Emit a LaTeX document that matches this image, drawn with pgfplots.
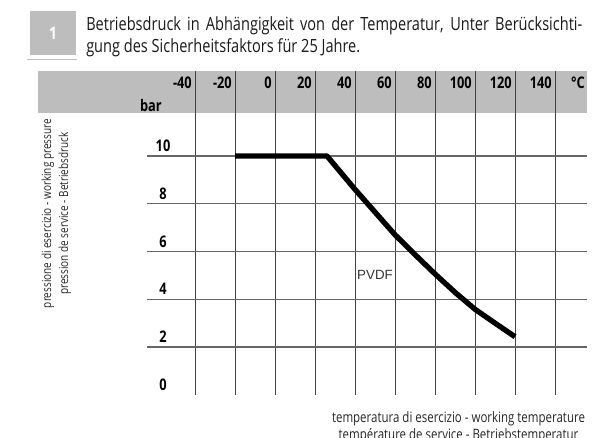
\documentclass[border=0pt]{standalone}
\usepackage{fontspec}
\setmainfont{Open Sans}[FakeStretch=0.8]
\newfontfamily\boldc{Open Sans}[FakeStretch=0.8,UprightFont=* Bold]
\newfontfamily\arialf{Liberation Sans}
\usepackage{pgfplots}
\pgfplotsset{compat=1.18}
\definecolor{band}{gray}{0.74}
\newsavebox{\titlebox}
\newsavebox{\xlabbox}
\newsavebox{\ylabbox}
\newsavebox{\degbox}
\newlength\tmpw
% #1 macro to define, #2 target width (pt), #3 text
\newcommand\fitsize[3]{%
  \settowidth\tmpw{\fontsize{10}{12}\selectfont #3}%
  \pgfmathsetmacro#1{10*#2/\tmpw}}
\begin{document}
\fitsize\fsT{205.5}{gung des Sicherheitsfaktors für 25 Jahre.}%
\fitsize\fsY{141.75}{pressione di esercizio - working pressure}%
\fitsize\fsX{189.75}{temperatura di esercizio - working temperature}%
\savebox{\titlebox}{\color{black!90}\vtop{\fontsize{\fsT}{16.5}\selectfont
  \hbox to 372pt{Betriebsdruck in Abhängigkeit von der Temperatur, Unter Berücksichti-}
  \hbox{gung des Sicherheitsfaktors für 25 Jahre.}}}%
\savebox{\xlabbox}{\color{black!85}\vtop{\fontsize{\fsX}{12.75}\selectfont
  \hbox to 189.75pt{\hss temperatura di esercizio - working temperature\hss}
  \hbox to 189.75pt{\hss température de service - Betriebstemperatur\hss}}}%
\savebox{\ylabbox}{\color{black!85}\vbox{\fontsize{\fsY}{12.75}\selectfont
  \hbox to 141.75pt{\hss pressione di esercizio - working pressure\hss}
  \hbox to 141.75pt{\hss pression de service - Betriebsdruck\hss}}}%
\savebox{\degbox}{\boldc\fontsize{12}{14}\selectfont °C}%
\begin{tikzpicture}
\begin{axis}[
  set layers,
  x=1.5pt, y=17.906pt,
  xmin=-64, xmax=156, ymin=0, ymax=13.561,
  clip=false,
  axis line style={draw=none},
  major tick length=0pt,
  xtick={-40,-20,...,140}, ytick={2,4,...,10},
  xticklabels={}, yticklabels={},
  grid=major,
  x grid style={black!75, line width=0.55pt},
  y grid style={black!60, line width=0.8pt},
]
\begin{pgfonlayer}{axis background}
\fill[band] (axis cs:-118.5,11.801) rectangle (axis cs:156,13.561);
\end{pgfonlayer}
% curve
\addplot[black, line width=4pt, line join=round] coordinates {
  (-20,10) (26,10) (40,8.6) (50,7.65) (60,6.7) (70,5.87) (80,5.06)
  (90,4.29) (100,3.58) (110,3.0) (120,2.43)
};
\node[font=\arialf\fontsize{10}{12}\selectfont, text=black!80] at (axis cs:50,5.0) {PVDF};
% x tick labels
\pgfplotsinvokeforeach{-40,-20,0,20,40,60,80,100,120,140}{
  \node[anchor=east, inner sep=0pt, font=\boldc\fontsize{12}{14}\selectfont] at (axis cs:#1-1.5,13.06) {#1};
}
\node[anchor=east, inner sep=0pt] at (axis cs:155,13.06) {\usebox{\degbox}};
\node[anchor=east, inner sep=0pt, font=\boldc\fontsize{12}{14}\selectfont] at (axis cs:-56.5,12.13) {bar};
% y tick labels
\pgfplotsinvokeforeach{0,2,4,6,8,10}{
  \node[inner sep=0pt, font=\boldc\fontsize{12}{14}\selectfont] at (axis cs:-56,#1+0.42) {#1};
}
% axis titles
\node[rotate=90, inner sep=0pt] at (axis cs:-109.25,7.59) {\usebox{\ylabbox}};
\node[anchor=base, inner sep=0pt] at (axis cs:91.75,-1.183) {\usebox{\xlabbox}};
% title block
\fill[band] (axis cs:-122.5,16.073) rectangle (axis cs:-99.5,14.23);
\node[text=white, font=\boldc\fontsize{13}{14}\selectfont] at (axis cs:-111,15.152) {1};
\draw[black!25, line width=0.6pt] (axis cs:-124,14.063) -- (axis cs:-99,14.063);
\node[anchor=base west, inner sep=0pt] at (axis cs:-94.5,15.236) {\usebox{\titlebox}};
\coordinate (bbA) at (axis cs:-137.5,16.534);
\coordinate (bbB) at (axis cs:167,-1.770);
\end{axis}
\pgfresetboundingbox
\path[use as bounding box] (bbA) rectangle (bbB);
\end{tikzpicture}
\end{document}
